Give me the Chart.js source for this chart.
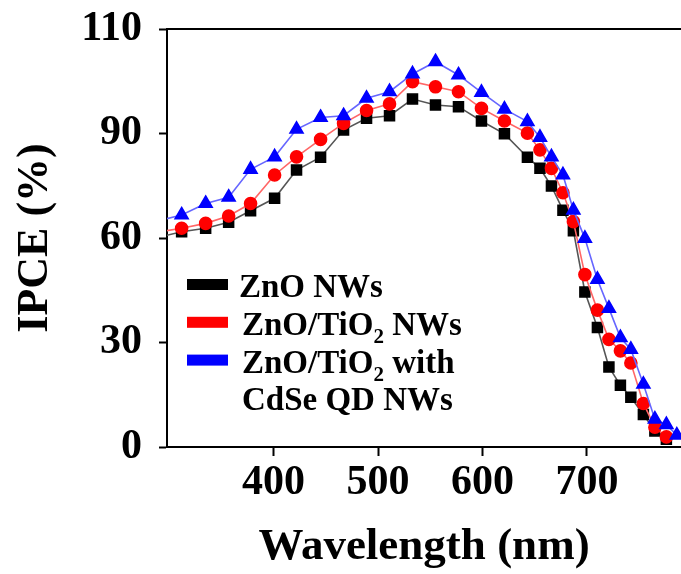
<!DOCTYPE html>
<html>
<head>
<meta charset="utf-8">
<script src="https://cdn.jsdelivr.net/npm/chart.js@4.4.1/dist/chart.umd.min.js"></script>
<style>
    html, body { margin: 0; padding: 0; background: #fff; }
    canvas { display: block; }
</style>
</head>
<body>
<canvas id="ipceChart" width="681" height="574"></canvas>
<script>
// Data
const wavelengths = [290, 312, 335, 357, 378, 401, 422, 445, 467, 489, 511, 533, 555, 577, 599,
                     621, 643, 655, 666, 677, 687, 698, 710, 721, 732, 742, 754, 765, 776, 786];
const znoNWs = [60.2, 61.8, 62.8, 64.5, 67.8, 71.4, 79.5, 83.2, 91.0, 94.4, 95.1, 99.9, 98.2, 97.7, 93.6,
                89.9, 83.2, 80.0, 74.9, 68.0, 62.1, 44.5, 34.3, 23.0, 17.7, 14.3, 9.3, 4.6, 2.2];
const znoTiO2NWs = [61.7, 62.8, 64.2, 66.3, 69.9, 78.1, 83.3, 88.3, 92.9, 96.6, 98.5, 104.9, 103.4, 102.0, 97.2,
                    93.6, 90.1, 85.3, 80.0, 73.0, 64.7, 49.5, 39.3, 30.9, 27.6, 24.1, 12.5, 5.7, 2.9];
const znoTiO2CdSe = [65.0, 66.6, 69.9, 71.7, 79.7, 83.3, 91.2, 94.6, 95.1, 100.1, 102.0, 107.1, 110.6, 106.8, 101.8,
                     97.0, 93.4, 88.9, 83.3, 78.1, 68.0, 59.9, 48.1, 39.8, 31.4, 28.0, 18.0, 8.0, 6.4, 3.4];

const xTicks = [400, 500, 600, 700];
const yTicks = [0, 30, 60, 90, 120];
const yTickLabels = ['0', '30', '60', '90', '110'];

const serif = "'Liberation Serif', 'Times New Roman', serif";

function toPoints(values) {
    return values.map((v, i) => ({ x: wavelengths[i], y: v }));
}

// frame: top border line
const framePlugin = {
    id: 'frame',
    afterDatasetsDraw(chart) {
        const { ctx, chartArea } = chart;
        ctx.save();
        ctx.strokeStyle = '#000';
        ctx.lineWidth = 2;
        ctx.beginPath();
        ctx.moveTo(chartArea.left, chartArea.top);
        ctx.lineTo(chartArea.right, chartArea.top);
        ctx.stroke();
        ctx.restore();
    }
};

// legend with subscripts
const legendRows = [
    { color: '#000000', runs: [['ZnO NWs', false]] },
    { color: '#ff0000', runs: [['ZnO/TiO', false], ['2', true], [' NWs', false]] },
    { color: '#0000ff', runs: [['ZnO/TiO', false], ['2', true], [' with', false]] },
    { color: null, runs: [['CdSe QD NWs', false]] }
];

const legendPlugin = {
    id: 'customLegend',
    afterDraw(chart) {
        const { ctx, chartArea } = chart;
        const x0 = chartArea.left + 20;
        const textX = chartArea.left + 75;
        const baseY = 297;
        const rowGap = 37.8;
        const fontSize = 33;
        ctx.save();
        ctx.textBaseline = 'alphabetic';
        ctx.fillStyle = '#000';
        legendRows.forEach((row, i) => {
            const y = baseY + i * rowGap;
            if (row.color) {
                ctx.fillStyle = row.color;
                ctx.fillRect(x0, y - 18, 41, 11);
            }
            let x = textX - (i === 0 ? 3 : 0);
            row.runs.forEach(([text, sub]) => {
                ctx.fillStyle = '#000';
                ctx.font = `bold ${sub ? Math.round(fontSize * 0.65) : fontSize}px ${serif}`;
                ctx.fillText(text, x, sub ? y + 8 : y);
                x += ctx.measureText(text).width;
            });
        });
        ctx.restore();
    }
};

const ctx = document.getElementById('ipceChart').getContext('2d');

new Chart(ctx, {
    type: 'line',
    data: {
        datasets: [
            {
                label: 'ZnO NWs',
                data: toPoints(znoNWs),
                borderColor: '#555555',
                backgroundColor: '#000000',
                pointBorderColor: '#000000',
                pointStyle: 'rect',
                pointRadius: 7,
                borderWidth: 1.6,
                order: 3
            },
            {
                label: 'ZnO/TiO2 NWs',
                data: toPoints(znoTiO2NWs),
                borderColor: '#ff6666',
                backgroundColor: '#ff0000',
                pointBorderColor: '#ff0000',
                pointStyle: 'circle',
                pointRadius: 6,
                borderWidth: 1.6,
                order: 2
            },
            {
                label: 'ZnO/TiO2 with CdSe QD NWs',
                data: toPoints(znoTiO2CdSe),
                borderColor: '#6666ff',
                backgroundColor: '#0000ff',
                pointBorderColor: '#0000ff',
                pointStyle: 'triangle',
                pointRadius: 7.5,
                borderWidth: 1.6,
                order: 1
            }
        ]
    },
    options: {
        responsive: false,
        animation: false,
        layout: { autoPadding: false, padding: { top: 29, right: 0, left: 0, bottom: 0 } },
        plugins: {
            legend: { display: false },
            tooltip: { enabled: false }
        },
        scales: {
            x: {
                type: 'linear',
                min: 298,
                max: 790,
                afterBuildTicks: scale => { scale.ticks = xTicks.map(v => ({ value: v })); },
                afterFit: scale => {
                    scale.height = 127;
                    scale.paddingLeft = 0;
                    scale.paddingRight = 0;
                },
                grid: { drawOnChartArea: false, drawTicks: true, tickLength: 9, tickWidth: 2, color: '#000' },
                border: { color: '#000', width: 2 },
                ticks: { color: '#000', padding: 2, maxRotation: 0, font: { family: serif, size: 42, weight: 'bold' } },
                title: {
                    display: true,
                    text: 'Wavelength (nm)',
                    color: '#000',
                    font: { family: serif, size: 45, weight: 'bold' },
                    padding: { top: 0, bottom: 0 }
                }
            },
            y: {
                type: 'linear',
                min: 0,
                max: 120,
                afterBuildTicks: scale => { scale.ticks = yTicks.map(v => ({ value: v })); },
                afterFit: scale => {
                    scale.width = 167;
                    scale.paddingTop = 0;
                    scale.paddingBottom = 0;
                },
                grid: { drawOnChartArea: false, drawTicks: true, tickLength: 8, tickWidth: 2, color: '#000' },
                border: { color: '#000', width: 2 },
                ticks: {
                    color: '#000',
                    padding: 17,
                    font: { family: serif, size: 42, weight: 'bold' },
                    callback: (value, index) => yTickLabels[index]
                },
                title: {
                    display: true,
                    text: 'IPCE (%)',
                    color: '#000',
                    font: { family: serif, size: 44, weight: 'bold' },
                    padding: { top: 9, bottom: 0 }
                }
            }
        }
    },
    plugins: [framePlugin, legendPlugin]
});
</script>
</body>
</html>
